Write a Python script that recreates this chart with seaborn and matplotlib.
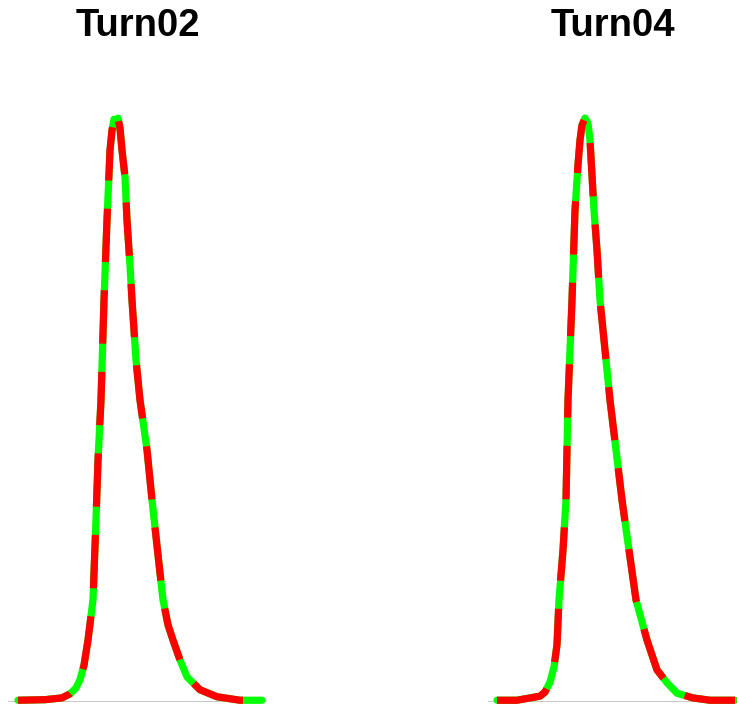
import numpy as np
import pandas as pd
import seaborn as sns
import matplotlib
matplotlib.use('Agg')
import matplotlib.pyplot as plt

# density curves (peak normalised to 1)
turn02_x = [10, 37, 54, 62, 68, 72, 76, 80, 85, 88, 90, 93, 96, 99, 102, 104, 106, 108,
            110, 112, 114, 117, 119, 122, 124, 128, 132, 139, 144, 150, 155, 160, 165,
            172, 179, 192, 209, 232, 254]
turn02_y = [0.003, 0.004, 0.007, 0.014, 0.024, 0.038, 0.063, 0.106, 0.175, 0.312, 0.414,
            0.517, 0.688, 0.825, 0.945, 0.979, 0.998, 0.985, 1.0, 0.983, 0.945, 0.899,
            0.825, 0.748, 0.688, 0.586, 0.517, 0.432, 0.346, 0.252, 0.175, 0.132, 0.106,
            0.072, 0.043, 0.021, 0.009, 0.003, 0.003]

turn04_x = [9, 29, 42, 52, 57, 62, 66, 69, 71, 75, 78, 79, 80, 84, 87, 90, 92, 94, 97,
            100, 102, 104, 106, 109, 112, 117, 122, 128, 134, 141, 148, 159, 169, 179,
            189, 205, 222, 247]
turn04_y = [0.003, 0.003, 0.007, 0.010, 0.017, 0.034, 0.060, 0.098, 0.175, 0.260, 0.346,
            0.432, 0.517, 0.688, 0.842, 0.920, 0.962, 0.988, 1.0, 0.991, 0.962, 0.902,
            0.842, 0.774, 0.688, 0.603, 0.517, 0.432, 0.346, 0.260, 0.175, 0.106, 0.055,
            0.033, 0.015, 0.007, 0.003, 0.003]

panels = [('Turn02', turn02_x, turn02_y, [8 / 737, 4 / 706, 259 / 737, 602 / 706], 259),
          ('Turn04', turn04_x, turn04_y, [488 / 737, 4 / 706, 249 / 737, 602 / 706], 249)]

sns.set_style('white')
plt.rcParams['font.family'] = ['Liberation Sans', 'DejaVu Sans']

fig = plt.figure(figsize=(7.37, 7.06), dpi=100)

for title, xs, ys, rect, xmax in panels:
    ax = fig.add_axes(rect)
    df = pd.DataFrame({'x': xs, 'y': ys})
    ax.axhline(0, color='#c4c4c4', lw=1.3, zorder=1)
    sns.lineplot(data=df, x='x', y='y', ax=ax, color='#00ff00', lw=5.2,
                 clip_on=False, zorder=2)
    sns.lineplot(data=df, x='x', y='y', ax=ax, color='#ff0000', lw=5.2,
                 linestyle=(0, (7.4, 3.9)), dash_capstyle='butt',
                 clip_on=False, zorder=3)
    ax.set_xlim(0, xmax)
    ax.set_ylim(0, 1.031)
    ax.axis('off')
    cx = rect[0] + rect[2] / 2
    fig.text(cx, 1 - 26 / 706, title, ha='center', va='center',
             fontsize=27.5, fontweight='bold', color='black')

fig.savefig('out.png', dpi=100)
